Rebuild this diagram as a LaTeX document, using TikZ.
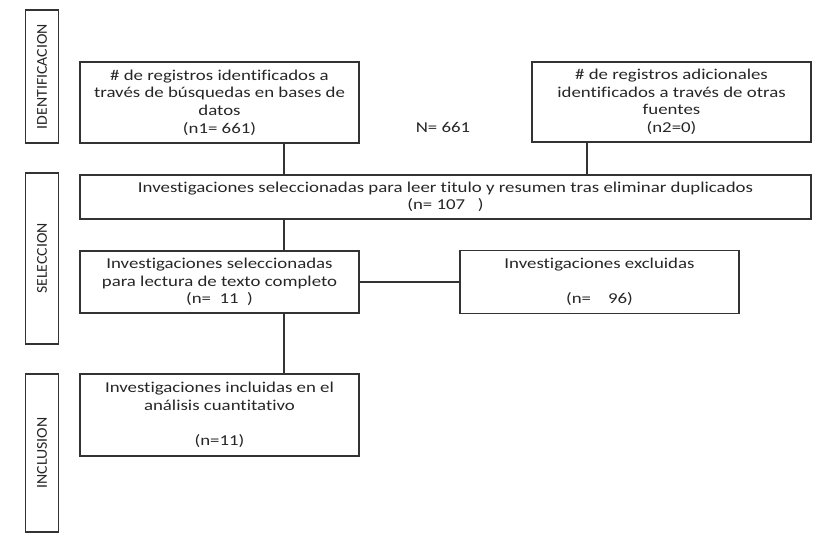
\documentclass[tikz,border=0pt]{standalone}
\usepackage{fontspec}
\setmainfont{Carlito}[FakeStretch=1.25,Ligatures=NoCommon]
\newfontfamily\stagefont{Carlito}[FakeStretch=1.05,Ligatures=NoCommon]
\begin{document}
\begin{tikzpicture}[x=0.75pt,y=-0.75pt,
  every node/.style={font=\fontsize{11.3}{13.2}\selectfont, text=black!85},
  box/.style={draw=black!80, line width=1.1pt, rectangle, inner sep=0pt, align=center, minimum width=209.25pt},
  stage/.style={draw=black!80, line width=1.1pt, rectangle, inner sep=0pt, rotate=90, minimum height=24.75pt, font=\stagefont\fontsize{11.3}{13.2}\selectfont},
  link/.style={draw=black!80, line width=1.1pt}]
\useasboundingbox (0,0) rectangle (835,540);
% stage labels
\node[stage, minimum width=99.75pt] (sid) at (42,76.5) {IDENTIFICACION};
\node[stage, minimum width=128.25pt] (ssel) at (42,258.5) {SELECCION};
\node[stage, minimum width=118.5pt] (sinc) at (42,453) {INCLUSION};
% boxes
\node[box, minimum height=60.75pt] (A) at (219.5,102.5) {\# de registros identificados a\\través de búsquedas en bases de\\datos\\(n1= 661)};
\node[box, minimum height=60pt] (B) at (671.5,102) {\# de registros adicionales\\identificados a través de otras\\fuentes\\(n2=0)};
\node (N) at (443,127) {N= 661};
\node[box, minimum width=548.25pt, minimum height=33pt] (C) at (445.5,197) {Investigaciones seleccionadas para leer titulo y resumen tras eliminar duplicados\\(n= 107\ \ \ )};
\node[box, minimum height=46.5pt] (D) at (219.5,282) {Investigaciones seleccionadas\\para lectura de texto completo\\(n=\ \ 11\ \ )};
\node[box, minimum height=47.25pt] (E) at (599.5,282) {Investigaciones excluidas\\[13.2pt](n=\ \ \ \ 96)};
\node[box, minimum height=61.5pt] (F) at (219.5,415) {Investigaciones incluidas en el\\análisis cuantitativo\\[13.2pt](n=11)};
% connector columns
\coordinate (xa) at (284,0);
\coordinate (xb) at (587,0);
\draw[link] (A.south -| xa) -- (C.north -| xa);
\draw[link] (B.south -| xb) -- (C.north -| xb);
\draw[link] (C.south -| xa) -- (D.north -| xa);
\draw[link] (D.east) -- (E.west);
\draw[link] (D.south -| xa) -- (F.north -| xa);
\end{tikzpicture}
\end{document}
